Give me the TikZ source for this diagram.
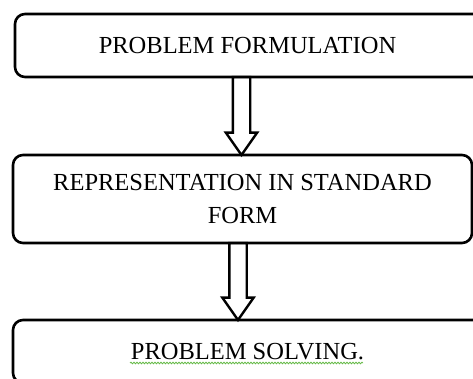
\documentclass[tikz,border=0pt]{standalone}
\usepackage{fontspec}
\setmainfont{Liberation Serif}
\usetikzlibrary{shapes.arrows,decorations.pathmorphing,calc}
\definecolor{spellgreen}{RGB}{100,185,70}

\begin{document}
\begin{tikzpicture}[x=1pt, y=-1pt,
    stagebox/.style={draw, line width=2.6pt, rounded corners=10pt, outer sep=0pt, inner sep=0pt,
        minimum height=63pt, align=center, font=\fontsize{24.5}{33}\selectfont},
    downarrow/.style={draw, single arrow, line width=2.4pt, outer sep=0pt, inner xsep=0pt, inner ysep=7.5pt,
        single arrow head extend=7pt, single arrow tip angle=70, anchor=tail, rotate=-90},
    spellmark/.style={spellgreen, line width=0.8pt, decorate,
        decoration={snake, amplitude=0.8pt, segment length=3pt}}]
    \clip (0,0) rectangle (473,379);
    \useasboundingbox (0,0) rectangle (473,379);
    % Stages
    \node[stagebox, minimum width=470pt] (formulation) at (250,45.5) {\hspace*{-5pt}PROBLEM FORMULATION};
    \node[stagebox, minimum width=459pt, minimum height=88pt] (standard) at (242.5,199) {REPRESENTATION IN STANDARD\\FORM};
    \node[stagebox, minimum width=472pt] (solving) at (249,351.5) {\hspace*{-3pt}PROBLEM SOLVING.};
    % Hollow arrows between stages
    \node[downarrow, minimum height=78pt] (arrowA) at ([xshift=-8.5pt]formulation.south) {};
    \node[downarrow, minimum height=77pt] (arrowB) at ([xshift=-4.5pt]standard.south) {};
    % Spell-check underline
    \draw[spellmark] ($(solving.center)+(-119,11.5)$) -- ($(solving.center)+(114,11.5)$);
\end{tikzpicture}
\end{document}
